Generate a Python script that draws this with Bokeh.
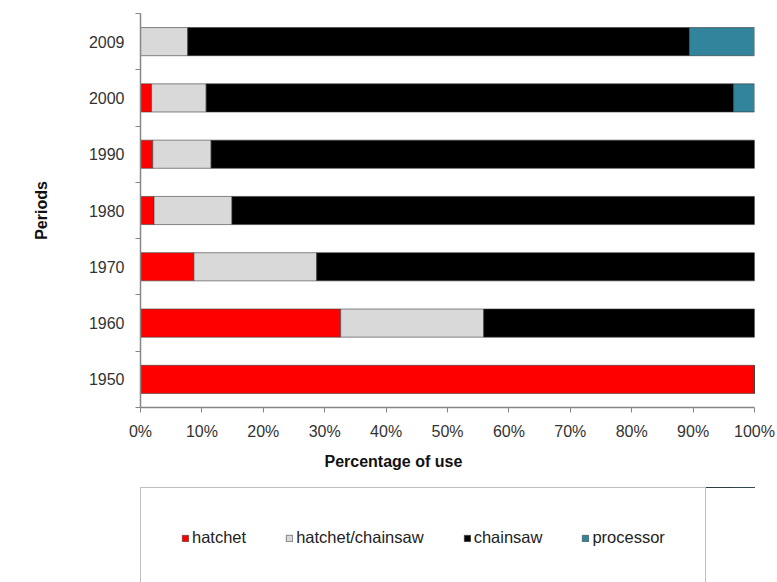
from bokeh.plotting import figure
from bokeh.models import (ColumnDataSource, Range1d, FixedTicker, PrintfTickFormatter,
                          CustomJSTickFormatter, Legend, LegendItem, Title)
from bokeh.layouts import column
from bokeh.embed import file_html
from bokeh.resources import INLINE

# Share of felling tools used in each period (percent of use)
periods = ["1950", "1960", "1970", "1980", "1990", "2000", "2009"]
series = ["hatchet", "hatchet/chainsaw", "chainsaw", "processor"]
hatchet = [100.0, 32.6, 8.7, 2.2, 2.0, 1.8, 0.0]
hatchet_chainsaw = [0.0, 23.3, 20.0, 12.7, 9.5, 8.9, 7.7]
chainsaw = [0.0, 44.1, 71.3, 85.1, 88.5, 85.9, 81.7]
processor = [0.0, 0.0, 0.0, 0.0, 0.0, 3.4, 10.6]
x_ticks = [0, 10, 20, 30, 40, 50, 60, 70, 80, 90, 100]

colors = ["#ff0000", "#d9d9d9", "#000000", "#31849b"]
FONT = "Liberation Sans"

pos = [i + 0.5 for i in range(len(periods))]
source = ColumnDataSource(dict(
    pos=pos,
    hatchet=hatchet,
    hatchet_chainsaw=hatchet_chainsaw,
    chainsaw=chainsaw,
    processor=processor,
))
stack_cols = ["hatchet", "hatchet_chainsaw", "chainsaw", "processor"]
bar_style = dict(height=0.5, fill_color=colors, line_color="#3a3a3a", line_width=0.6)

p = figure(width=777, height=487, output_backend="svg", toolbar_location=None,
           x_range=Range1d(0, 100), y_range=Range1d(0, len(periods)),
           min_border_left=140, min_border_right=23, min_border_top=13,
           min_border_bottom=80)
p.outline_line_color = None
p.grid.visible = False
p.background_fill_color = "white"

p.hbar_stack(stack_cols, y="pos", source=source, **bar_style)

axis_gray = "#868686"

# y axis: period labels centred on bars, ticks on the slot boundaries
yax = p.yaxis[0]
yax.ticker = FixedTicker(ticks=pos, minor_ticks=list(range(len(periods) + 1)))
yax.formatter = CustomJSTickFormatter(args=dict(labels=periods),
                                      code="return labels[Math.floor(tick)] || '';")
yax.major_tick_line_color = None
yax.major_tick_out = 0
yax.major_tick_in = 0
yax.minor_tick_out = 5
yax.minor_tick_in = 0
yax.minor_tick_line_color = axis_gray
yax.axis_line_color = axis_gray
yax.axis_line_width = 1.5
yax.major_label_standoff = 11
yax.major_label_text_font = FONT
yax.major_label_text_font_size = "16px"
yax.major_label_text_color = "#333333"
yax.axis_label = "Periods"
yax.axis_label_text_font = FONT
yax.axis_label_text_font_size = "16px"
yax.axis_label_text_font_style = "bold"
yax.axis_label_text_color = "#111111"
yax.axis_label_standoff = 36

# x axis: percentage scale
xax = p.xaxis[0]
xax.ticker = FixedTicker(ticks=x_ticks)
xax.formatter = PrintfTickFormatter(format="%d%%")
xax.minor_tick_line_color = None
xax.major_tick_out = 5
xax.major_tick_in = 0
xax.major_tick_line_color = axis_gray
xax.axis_line_color = axis_gray
xax.axis_line_width = 1.5
xax.major_label_standoff = 10
xax.major_label_text_font = FONT
xax.major_label_text_font_size = "16px"
xax.major_label_text_color = "#333333"

# x axis title, set left of the frame centre
p.add_layout(Title(text="Percentage of use", align="left", offset=184,
                   text_font=FONT, text_font_size="16px", text_font_style="bold",
                   text_color="#111111", standoff=17), "below")

# legend strip: same stacked bars, kept outside this strip's visible y range,
# so only the boxed legend shows
leg = figure(width=777, height=95, output_backend="svg", toolbar_location=None,
             x_range=Range1d(0, 100), y_range=Range1d(-20, -10),
             x_axis_location=None, y_axis_location=None,
             min_border_left=140, min_border_right=23, min_border_top=0,
             min_border_bottom=0)
leg.grid.visible = False
leg.outline_line_color = None
leg_bars = leg.hbar_stack(stack_cols, y="pos", source=source, **bar_style)

items = [LegendItem(label=name, renderers=[r]) for name, r in zip(series, leg_bars)]
legend = Legend(items=items, orientation="horizontal", location=(0, -6),
                glyph_width=8, glyph_height=8, label_standoff=3, spacing=39,
                padding=40, margin=0, border_line_color="#808080",
                border_line_width=1.5, background_fill_color="white",
                background_fill_alpha=1, label_text_font=FONT,
                label_text_font_size="16.5px", label_text_color="#222222")
leg.add_layout(legend, "center")

layout = column(p, leg, spacing=0)

open("out.html", "w").write(file_html(layout, INLINE))
